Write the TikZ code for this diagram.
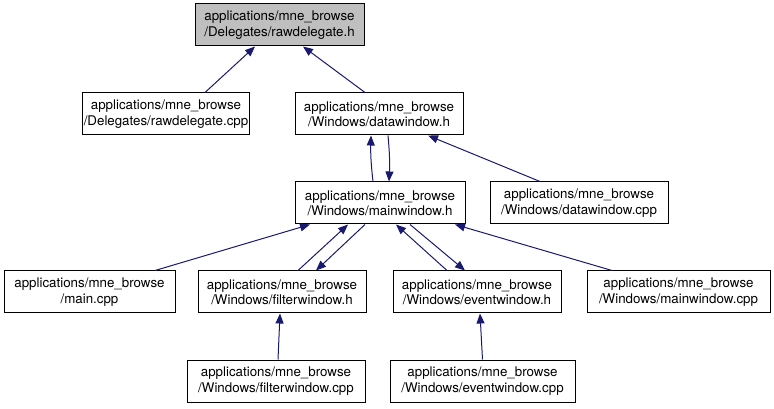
\documentclass[tikz,border=0pt]{standalone}
\usepackage{fontspec}
\setmainfont{TeX Gyre Heros}
\usetikzlibrary{arrows.meta}
\definecolor{edgeblue}{HTML}{191970}

\begin{document}
\begin{tikzpicture}[
  x=0.75pt, y=-0.75pt,
  box/.style={draw=black, line width=0.75pt, align=center, inner xsep=1pt, inner ysep=0pt, minimum height=31.5pt, font=\fontsize{10}{11.5}\selectfont},
  boxw/.style={minimum width=#1*0.75pt},
  rootbox/.style={box, fill=black!25},
  every edge/.style={draw=edgeblue, line width=0.75pt, -{Triangle[length=7.5pt, width=6pt]}}
]
\useasboundingbox (0,0) rectangle (774,409);

\node[rootbox, boxw=169] (rdh) at (279.5,25) {applications/mne\_browse\\/Delegates/rawdelegate.h};

\node[box, boxw=160] (rdcpp) at (166,114) {applications/mne\_browse\\/Delegates/rawdelegate.cpp};
\node[box, boxw=168] (dwh) at (379,114) {applications/mne\_browse\\/Windows/datawindow.h};

\node[box, boxw=170] (mwh) at (380,203) {applications/mne\_browse\\/Windows/mainwindow.h};
\node[box, boxw=178] (dwcpp) at (579,203) {applications/mne\_browse\\/Windows/datawindow.cpp};

\node[box, boxw=171] (maincpp) at (89.5,292) {applications/mne\_browse\\/main.cpp};
\node[box, boxw=168] (fwh) at (282,292) {applications/mne\_browse\\/Windows/filterwindow.h};
\node[box, boxw=168] (ewh) at (477,292) {applications/mne\_browse\\/Windows/eventwindow.h};
\node[box, boxw=183] (mwcpp) at (678.5,292) {applications/mne\_browse\\/Windows/mainwindow.cpp};

\node[box, boxw=178] (fwcpp) at (276,381) {applications/mne\_browse\\/Windows/filterwindow.cpp};
\node[box, boxw=185] (ewcpp) at (482.5,381) {applications/mne\_browse\\/Windows/eventwindow.cpp};

% includes of rawdelegate.h
\draw ([shift={(39,0)}]rdcpp.north) edge ([shift={(-24.5,0)}]rdh.south);
\draw ([shift={(-14,0)}]dwh.north) edge ([shift={(23.5,0)}]rdh.south);

% datawindow <-> mainwindow
\draw ([shift={(-7,0)}]mwh.north) edge[bend left=4] ([shift={(-8,0)}]dwh.south);
\draw ([shift={(9,0)}]dwh.south) edge[bend left=4] ([shift={(9,0)}]mwh.north);
\draw ([shift={(-39,0)}]dwcpp.north) edge ([shift={(49,0)}]dwh.south);

% includes of mainwindow.h
\draw ([shift={(65.5,0)}]maincpp.north) edge ([shift={(-70,0)}]mwh.south);
\draw ([shift={(16,0)}]fwh.north) edge ([shift={(-32,0)}]mwh.south);
\draw ([shift={(-15,0)}]mwh.south) edge ([shift={(34,0)}]fwh.north);
\draw ([shift={(-30,0)}]ewh.north) edge ([shift={(16,0)}]mwh.south);
\draw ([shift={(30,0)}]mwh.south) edge ([shift={(-12,0)}]ewh.north);
\draw ([shift={(-66.5,0)}]mwcpp.north) edge ([shift={(75,0)}]mwh.south);

% bottom row
\draw ([shift={(2,0)}]fwcpp.north) edge ([shift={(-2,0)}]fwh.south);
\draw (ewcpp.north) edge ([shift={(3,0)}]ewh.south);
\end{tikzpicture}
\end{document}
